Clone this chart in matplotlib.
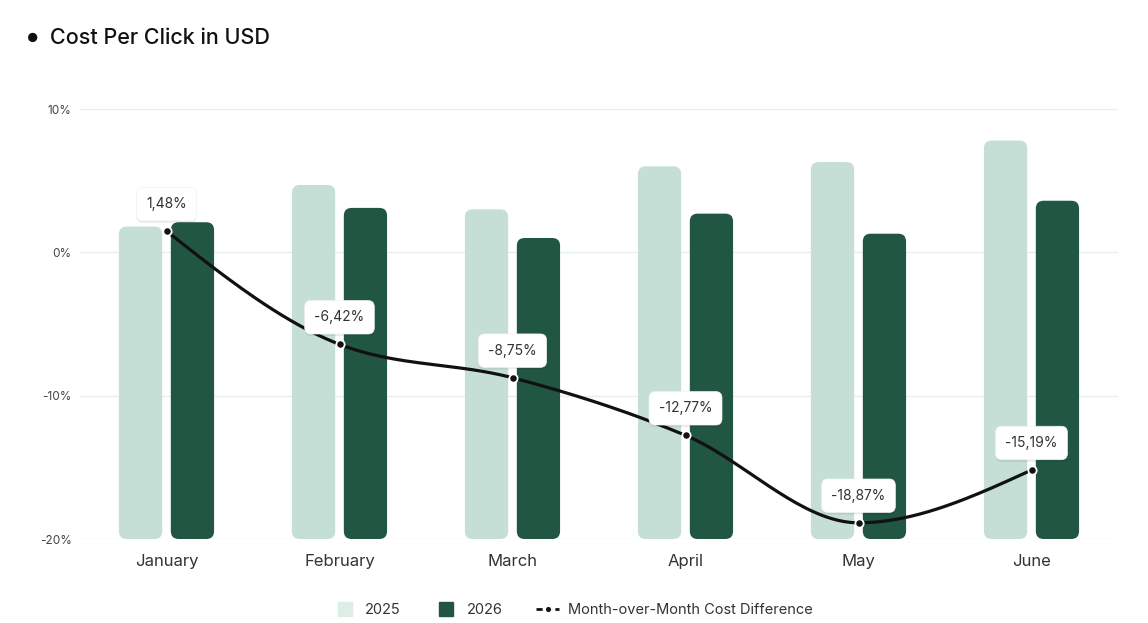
import numpy as np
import matplotlib
matplotlib.use("Agg")
import matplotlib.pyplot as plt
from matplotlib.patches import FancyBboxPatch
from matplotlib.lines import Line2D
import matplotlib.patheffects as pe

# ---- data ----
months = ["January", "February", "March", "April", "May", "June"]
cpc_2025 = [2.18, 2.47, 2.30, 2.60, 2.63, 2.78]
cpc_2026 = [2.21, 2.31, 2.10, 2.27, 2.13, 2.36]
mom_diff = [1.48, -6.42, -8.75, -12.77, -18.87, -15.19]
pct_ticks = [-20, -10, 0, 10]
pct_tick_labels = ["-20%", "-10%", "0%", "10%"]
series_names = ["2025", "2026", "Month-over-Month Cost Difference"]

# ---- style ----
C_LIGHT = "#c5dfd6"
C_LIGHT_LEG = "#dfeee5"
C_DARK = "#215643"
C_GRID = "#e5f1e8"
C_LINE = "#111111"
FONT = ["Inter", "DejaVu Sans"]
plt.rcParams["font.family"] = FONT


def monotone_x(xs, ys, n=40):
    xs = np.asarray(xs, float); ys = np.asarray(ys, float)
    m = len(xs)
    h = np.diff(xs); s = np.diff(ys) / h
    t = np.zeros(m)
    for i in range(1, m - 1):
        h0, h1, s0, s1 = h[i - 1], h[i], s[i - 1], s[i]
        p = (s0 * h1 + s1 * h0) / (h0 + h1)
        t[i] = (np.sign(s0) + np.sign(s1)) * min(abs(s0), abs(s1), 0.5 * abs(p)) or 0.0
    t[0] = (3 * s[0] - t[1]) / 2
    t[-1] = (3 * s[-1] - t[-2]) / 2
    px, py = [], []
    u = np.linspace(0, 1, n)
    for i in range(m - 1):
        dx = h[i] / 3
        P0 = (xs[i], ys[i]); P1 = (xs[i] + dx, ys[i] + dx * t[i])
        P2 = (xs[i + 1] - dx, ys[i + 1] - dx * t[i + 1]); P3 = (xs[i + 1], ys[i + 1])
        b0 = (1 - u) ** 3; b1 = 3 * (1 - u) ** 2 * u; b2 = 3 * (1 - u) * u ** 2; b3 = u ** 3
        px.extend(b0 * P0[0] + b1 * P1[0] + b2 * P2[0] + b3 * P3[0])
        py.extend(b0 * P0[1] + b1 * P1[1] + b2 * P2[1] + b3 * P3[1])
    return np.array(px), np.array(py)


W, H = 1148, 623
fig = plt.figure(figsize=(W / 100, H / 100), dpi=100)
fig.patch.set_facecolor("white")

ax = fig.add_axes([80 / W, 1 - 539 / H, 1038 / W, 430 / H])
x = np.arange(len(months))
ax.set_xlim(-0.5, len(months) - 0.5)
ax.set_ylim(pct_ticks[0], pct_ticks[-1])
ax.set_yticks(pct_ticks)
ax.set_yticklabels(pct_tick_labels)
ax.set_xticks(x)
ax.set_xticklabels(months)
ax.tick_params(axis="y", length=0, pad=6, labelsize=8.5, labelcolor="#444444")
ax.tick_params(axis="x", length=0, pad=11, labelsize=12, labelcolor="#333333")
ax.grid(axis="y", color=C_GRID, linewidth=1.0)
ax.set_axisbelow(True)
for sp in ax.spines.values():
    sp.set_visible(False)

axb = ax.twinx()
axb.set_ylim(0, 3)
axb.set_yticks([])
for sp in axb.spines.values():
    sp.set_visible(False)
axb.patch.set_visible(False)

bw = 0.25
off = 0.15
for vals, dx, col in [(cpc_2025, -off, C_LIGHT), (cpc_2026, off, C_DARK)]:
    bars = axb.bar(x + dx, vals, width=bw, color=col)
    for r in bars:
        bx, by, bwid, bh = r.get_x(), r.get_y(), r.get_width(), r.get_height()
        r.set_visible(False)
        fp = FancyBboxPatch((bx, by), bwid, bh,
                            boxstyle="round,pad=0,rounding_size=0.045",
                            mutation_aspect=(3 / 430) / (6 / 1038),
                            facecolor=col, edgecolor="none", zorder=2)
        axb.add_patch(fp)

sx, sy = monotone_x(x, mom_diff)
axb.plot(sx, sy, color=C_LINE, lw=2.3, transform=ax.transData, zorder=4, solid_capstyle="round")
axb.plot(x, mom_diff, "o", color=C_LINE, ms=6, mec="white", mew=1.3,
         transform=ax.transData, zorder=5)

for xi, v in zip(x, mom_diff):
    lab = f"{v:.2f}%".replace(".", ",")
    t = axb.annotate(lab, xy=(xi, v), xycoords=ax.transData, xytext=(0, 19.5),
                     textcoords="offset points", ha="center", va="center",
                     fontsize=10, color="#333333", zorder=6,
                     bbox=dict(boxstyle="round,pad=0.7,rounding_size=0.45",
                               fc="white", ec="#f2f2f2", lw=0.5))
    t.get_bbox_patch().set_path_effects([
        pe.SimplePatchShadow(offset=(0, -1.5), shadow_rgbFace="black", alpha=0.08),
        pe.Normal()])

# title
fig.text(27 / W, 1 - 39 / H, "\u25CF", fontsize=9, va="center", ha="left", color="#111111")
fig.text(50 / W, 1 - 38 / H, "Cost Per Click in USD", fontsize=15.5, fontweight="medium",
         va="center", ha="left", color="#111111")

handles = [
    Line2D([], [], marker="s", ls="none", ms=10, color=C_LIGHT_LEG, mec=C_LIGHT_LEG),
    Line2D([], [], marker="s", ls="none", ms=10, color=C_DARK, mec=C_DARK),
    Line2D([], [], color=C_LINE, lw=2, ls=(0, (2.2, 1.2)), marker="o", ms=4.5,
           mec="white", mew=0.8),
]
fig.legend(handles, series_names, loc="center", bbox_to_anchor=(573 / W, 1 - 610 / H),
           ncol=3, frameon=False, fontsize=10.5, handlelength=1.6, handletextpad=0.6,
           columnspacing=2.3, labelcolor="#333333")

fig.savefig("out.png", dpi=100, facecolor="white")
